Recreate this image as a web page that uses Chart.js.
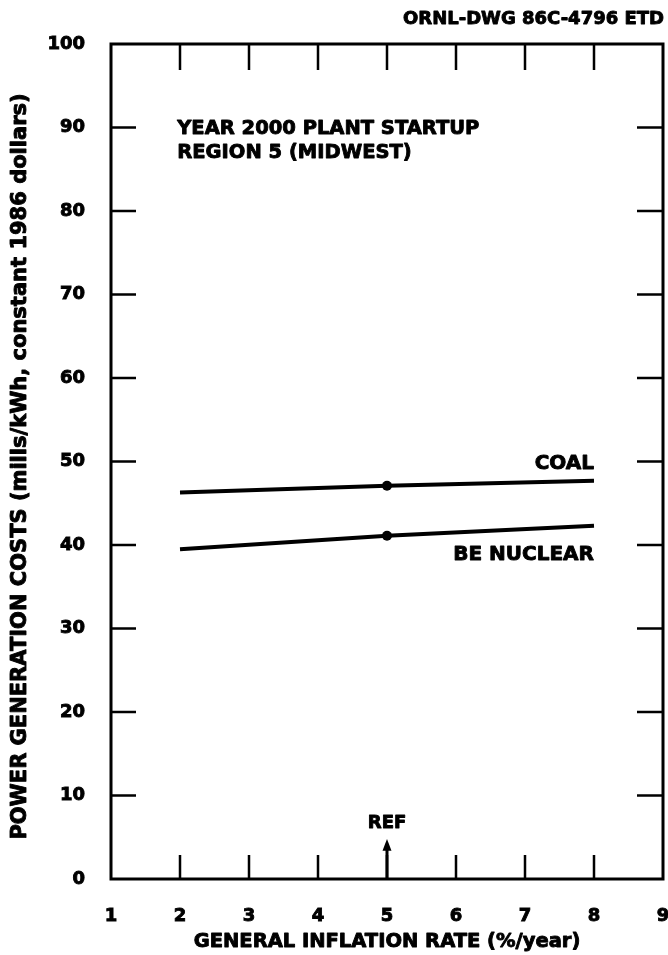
<!DOCTYPE html>
<html>
<head>
<meta charset="utf-8">
<script src="https://cdn.jsdelivr.net/npm/chart.js@4.4.1/dist/chart.umd.min.js"></script>
<style>
  html, body { margin: 0; padding: 0; background: #ffffff; }
  #wrap { width: 668px; height: 955px; position: relative; }
</style>
</head>
<body>
<div id="wrap"><canvas id="chart" width="668" height="955"></canvas></div>
<script>
// Power generation cost vs. general inflation rate (year 2000 startup, region 5)
const inflationRates = [2, 5, 8];
const coalCosts = [46.3, 47.1, 47.7];
const nuclearCosts = [39.5, 41.1, 42.3];
const markedRate = 5;               // reference inflation rate

const xMajorTicks = [2, 3, 4, 5, 6, 7, 8];
const yMajorTicks = [10, 20, 30, 40, 50, 60, 70, 80, 90];

const xTitle = 'GENERAL INFLATION RATE (%/year)';
const yTitle = 'POWER GENERATION COSTS (mills/kWh, constant 1986 dollars)';

const FONT = '"DejaVu Sans", "Liberation Sans", sans-serif';
const INK = 0.9;   // extra stroke to give the lettering a heavy look

function toPoints(xs, ys) {
  return xs.map((x, i) => ({ x: x, y: ys[i] }));
}
function markerRadii(xs) {
  return xs.map(x => (x === markedRate ? 5 : 0));
}
function heavyText(ctx, text, px, py) {
  ctx.strokeText(text, px, py);
  ctx.fillText(text, px, py);
}

// Frame, inward tick marks, REF arrow, axis titles and text annotations
const decorations = {
  id: 'decorations',
  afterDraw(chart) {
    const { ctx, chartArea: a, scales: { x, y } } = chart;
    ctx.save();
    ctx.strokeStyle = '#000';
    ctx.fillStyle = '#000';
    ctx.lineCap = 'butt';

    // frame
    ctx.lineWidth = 3;
    ctx.strokeRect(a.left, a.top, a.right - a.left, a.bottom - a.top);

    // inward ticks
    ctx.lineWidth = 2.5;
    ctx.beginPath();
    xMajorTicks.forEach(v => {
      const px = x.getPixelForValue(v);
      ctx.moveTo(px, a.top); ctx.lineTo(px, a.top + 26);
      ctx.moveTo(px, a.bottom); ctx.lineTo(px, a.bottom - 24);
    });
    yMajorTicks.forEach(v => {
      const py = y.getPixelForValue(v);
      ctx.moveTo(a.left, py); ctx.lineTo(a.left + 25, py);
      ctx.moveTo(a.right, py); ctx.lineTo(a.right - 26, py);
    });
    ctx.stroke();

    // REF arrow
    const rx = x.getPixelForValue(markedRate);
    const tipY = y.getPixelForValue(4.8);
    const baseY = y.getPixelForValue(3.5);
    ctx.lineWidth = 3;
    ctx.beginPath();
    ctx.moveTo(rx, a.bottom);
    ctx.lineTo(rx, baseY);
    ctx.stroke();
    ctx.beginPath();
    ctx.moveTo(rx, tipY);
    ctx.lineTo(rx - 4.5, baseY + 1);
    ctx.lineTo(rx + 4.5, baseY + 1);
    ctx.closePath();
    ctx.fill();

    ctx.lineWidth = INK;
    ctx.lineJoin = 'round';
    ctx.textBaseline = 'middle';

    ctx.font = 'bold 18px ' + FONT;
    ctx.textAlign = 'center';
    heavyText(ctx, 'REF', rx, y.getPixelForValue(6.7));

    // axis titles
    ctx.font = 'bold 19.5px ' + FONT;
    heavyText(ctx, xTitle, (x.getPixelForValue(2) + x.getPixelForValue(8)) / 2 - 0, 942);
    ctx.save();
    ctx.translate(20.5, (a.top + a.bottom) / 2 + 5);
    ctx.rotate(-Math.PI / 2);
    ctx.font = 'bold 21px ' + FONT;
    heavyText(ctx, yTitle, 0, 0);
    ctx.restore();

    // case description
    ctx.font = 'bold 19.5px ' + FONT;
    ctx.textAlign = 'left';
    heavyText(ctx, 'YEAR 2000 PLANT STARTUP', x.getPixelForValue(1.96), y.getPixelForValue(89.8));
    heavyText(ctx, 'REGION 5 (MIDWEST)', x.getPixelForValue(1.96), y.getPixelForValue(86.9));

    // series labels
    ctx.font = 'bold 20px ' + FONT;
    ctx.textAlign = 'right';
    heavyText(ctx, 'COAL', x.getPixelForValue(8), y.getPixelForValue(49.7));
    heavyText(ctx, 'BE NUCLEAR', x.getPixelForValue(8), y.getPixelForValue(38.8));

    // drawing number
    ctx.font = 'bold 18px ' + FONT;
    heavyText(ctx, 'ORNL-DWG 86C-4796 ETD', chart.width - 4, 19);

    ctx.restore();
  }
};

new Chart(document.getElementById('chart'), {
  type: 'line',
  data: {
    datasets: [
      {
        label: 'COAL',
        data: toPoints(inflationRates, coalCosts),
        borderColor: '#000',
        backgroundColor: '#000',
        borderWidth: 4,
        pointRadius: markerRadii(inflationRates),
        pointBackgroundColor: '#000',
        pointBorderWidth: 0,
        tension: 0
      },
      {
        label: 'BE NUCLEAR',
        data: toPoints(inflationRates, nuclearCosts),
        borderColor: '#000',
        backgroundColor: '#000',
        borderWidth: 4,
        pointRadius: markerRadii(inflationRates),
        pointBackgroundColor: '#000',
        pointBorderWidth: 0,
        tension: 0
      }
    ]
  },
  options: {
    responsive: false,
    devicePixelRatio: 1,
    animation: false,
    layout: { padding: { top: 44, right: 5, bottom: 0, left: 0 } },
    plugins: {
      legend: { display: false },
      tooltip: { enabled: false }
    },
    scales: {
      x: {
        type: 'linear',
        min: 1,
        max: 9,
        grid: { display: false },
        border: { display: false },
        ticks: {
          stepSize: 1,
          color: '#000',
          padding: 19,
          textStrokeColor: '#000',
          textStrokeWidth: INK,
          font: { family: FONT, size: 18, weight: 'bold' }
        },
        afterFit(scale) {
          scale.height = 76;
          scale.paddingLeft = 0;
          scale.paddingRight = 0;
        }
      },
      y: {
        type: 'linear',
        min: 0,
        max: 100,
        grid: { display: false },
        border: { display: false },
        ticks: {
          stepSize: 10,
          color: '#000',
          padding: 18,
          textStrokeColor: '#000',
          textStrokeWidth: INK,
          font: { family: FONT, size: 18, weight: 'bold' }
        },
        afterFit(scale) {
          scale.width = 111;
          scale.paddingTop = 0;
          scale.paddingBottom = 0;
        }
      }
    }
  },
  plugins: [decorations]
});
</script>
</body>
</html>
